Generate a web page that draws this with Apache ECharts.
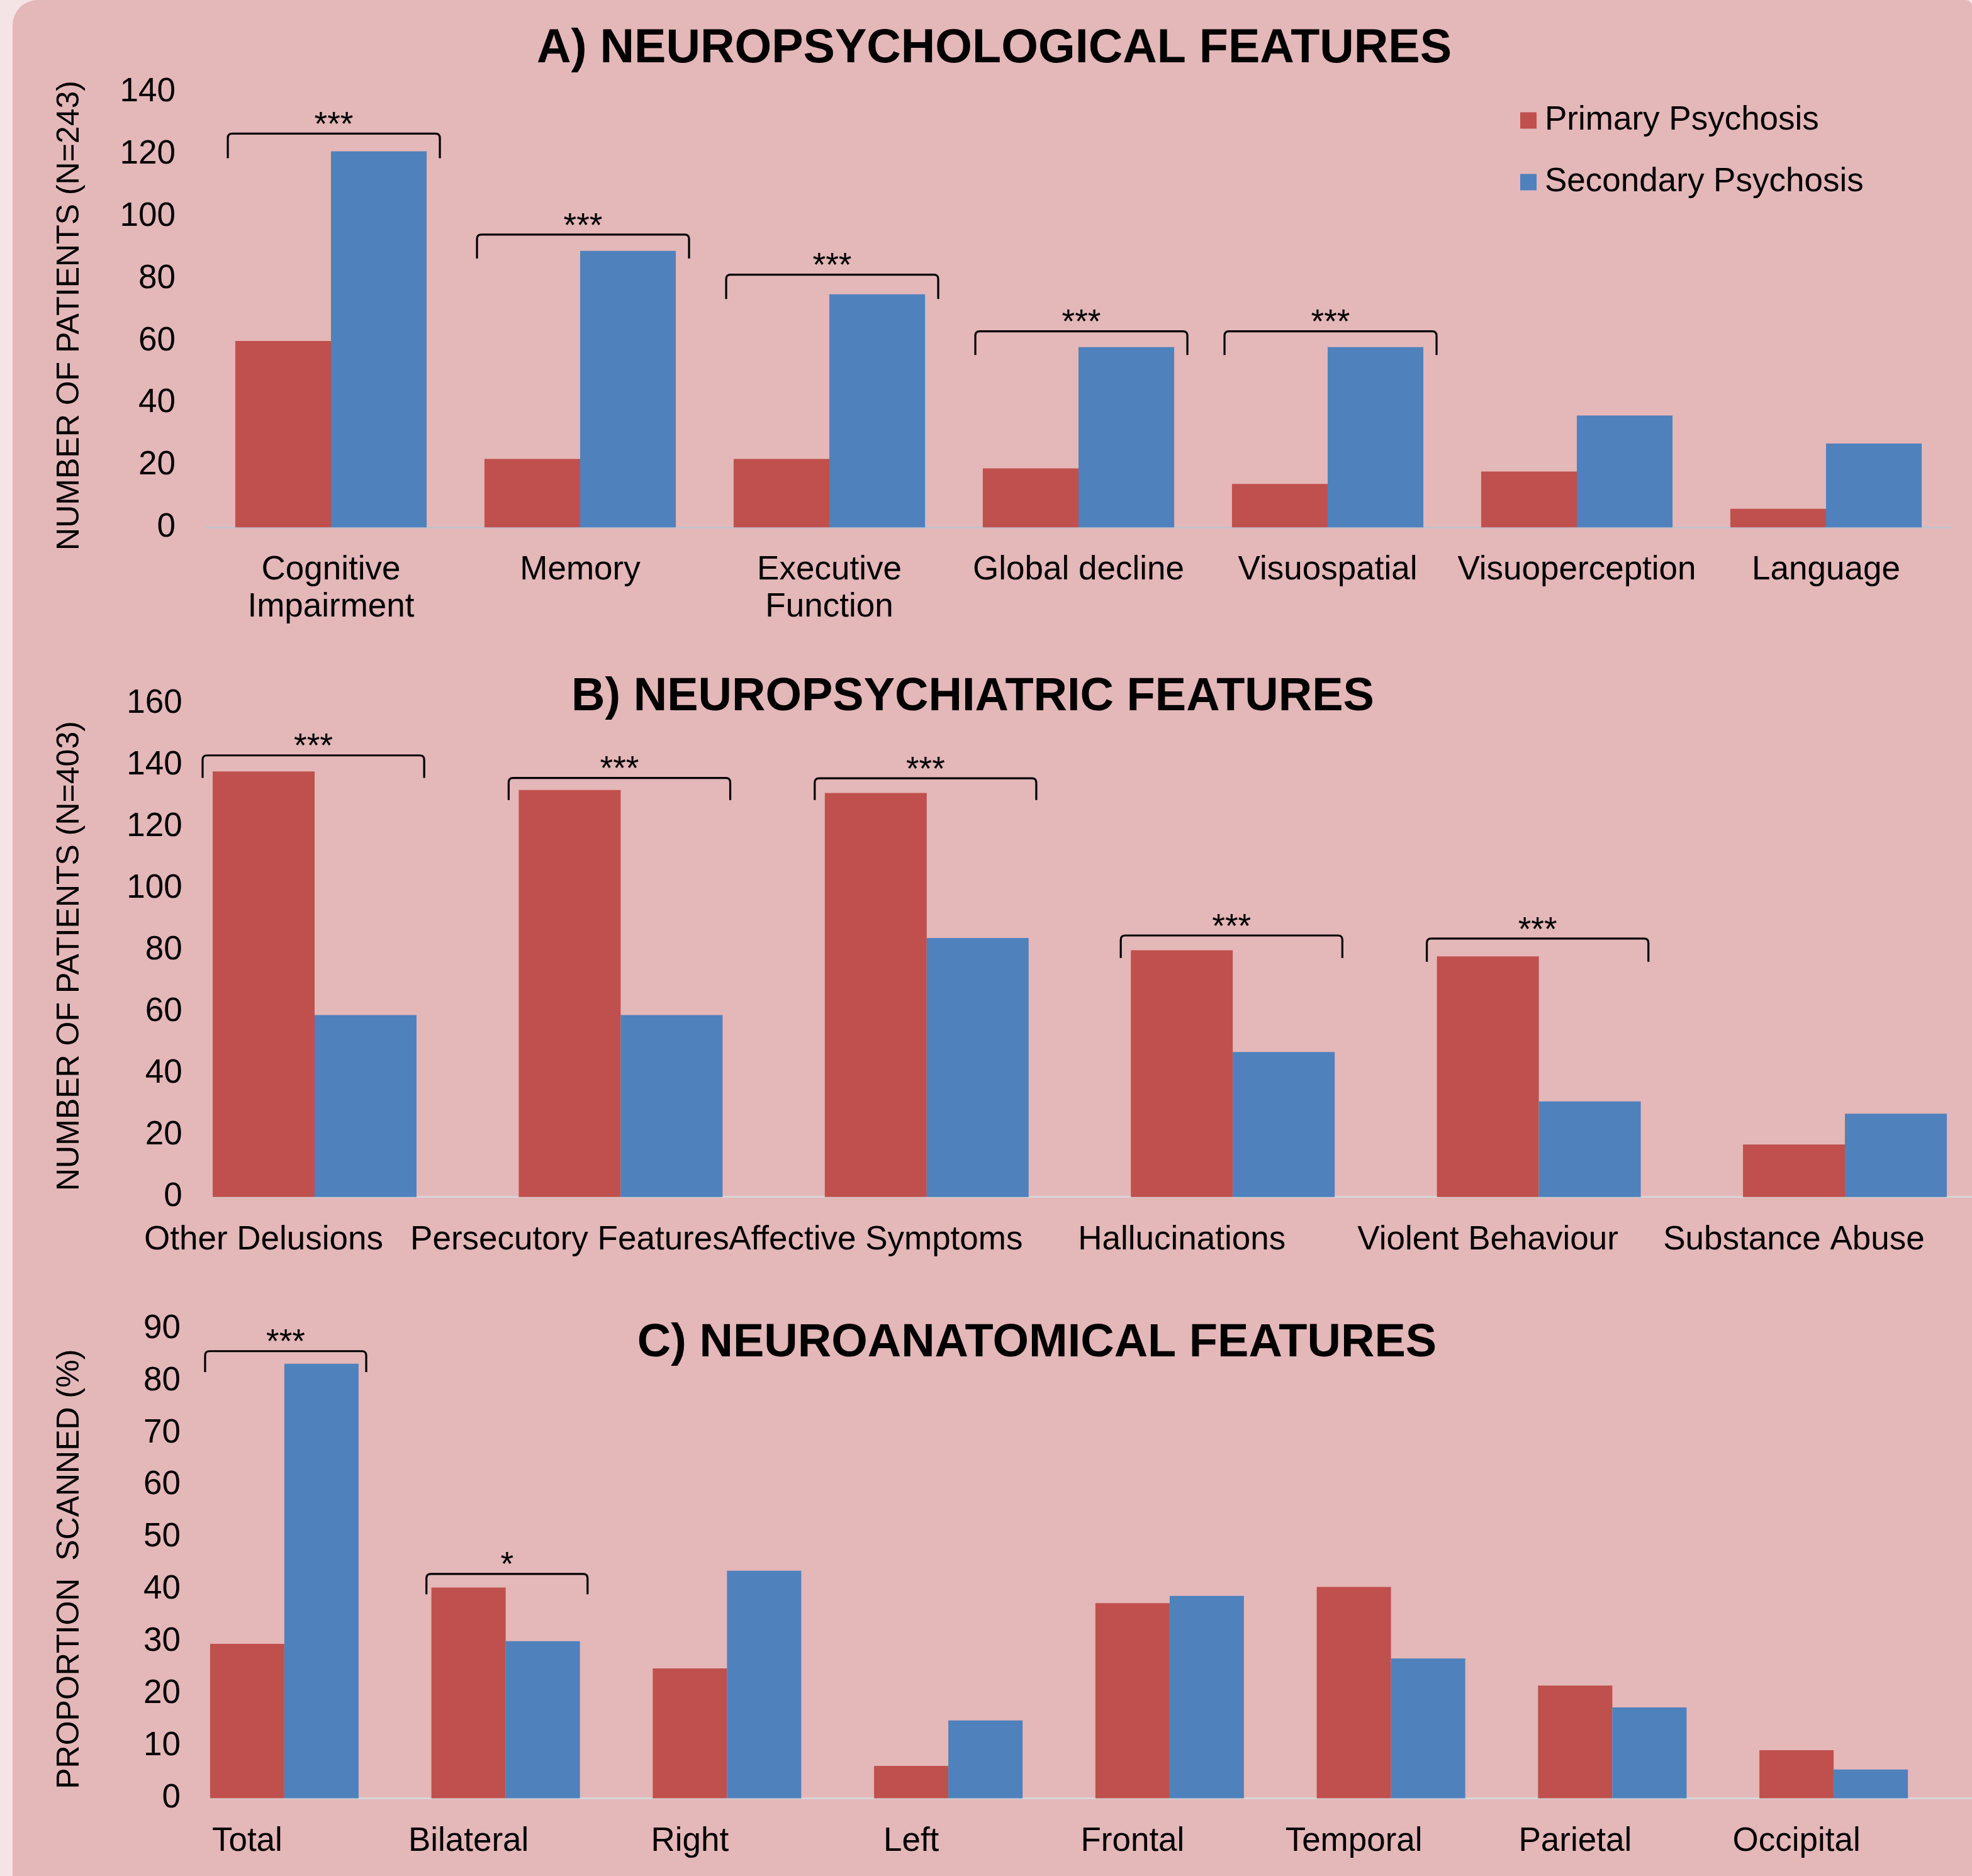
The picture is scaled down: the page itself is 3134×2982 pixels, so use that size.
<!DOCTYPE html>
<html>
<head>
<meta charset="utf-8">
<script src="https://cdn.jsdelivr.net/npm/echarts@6/dist/echarts.min.js"></script>
<style>
  html, body { margin: 0; padding: 0; background: #f5e4e5; }
  #chart { width: 3134px; height: 2982px; }
</style>
</head>
<body>
<div id="chart"></div>
<script>
// ---- A) neuropsychological features ----
const categoriesA = ['Cognitive\nImpairment', 'Memory', 'Executive\nFunction', 'Global decline', 'Visuospatial', 'Visuoperception', 'Language'];
const primaryA = [60, 22, 22, 19, 14, 18, 6];
const secondaryA = [121, 89, 75, 58, 58, 36, 27];
const bracketCatsA = [0, 1, 2, 3, 4];
const bracketTopsA = [126.7, 94.2, 81.3, 63.1, 63.1];
const bracketEndsA = [118.8, 86.5, 73.5, 55.5, 55.5];
const bracketMarksA = ['***', '***', '***', '***', '***'];
const ticksA = { min: 0, max: 140, interval: 20 };

// ---- B) neuropsychiatric features ----
const categoriesB = ['Other Delusions', 'Persecutory Features', 'Affective Symptoms', 'Hallucinations', 'Violent Behaviour', 'Substance Abuse'];
const primaryB = [138, 132, 131, 80, 78, 17];
const secondaryB = [59, 59, 84, 47, 31, 27];
const bracketCatsB = [0, 1, 2, 3, 4];
const bracketTopsB = [143.2, 135.9, 135.8, 84.8, 83.8];
const bracketEndsB = [135.9, 128.7, 128.7, 77.5, 76.3];
const bracketMarksB = ['***', '***', '***', '***', '***'];
const ticksB = { min: 0, max: 160, interval: 20 };

// ---- C) neuroanatomical features ----
const categoriesC = ['Total', 'Bilateral', 'Right', 'Left', 'Frontal', 'Temporal', 'Parietal', 'Occipital'];
const primaryC = [29.6, 40.4, 24.9, 6.2, 37.4, 40.5, 21.6, 9.2];
const secondaryC = [83.3, 30.1, 43.6, 14.9, 38.8, 26.8, 17.4, 5.5];
const bracketCatsC = [0, 1];
const bracketTopsC = [85.7, 43.0];
const bracketEndsC = [81.7, 39.1];
const bracketMarksC = ['***', '*'];
const ticksC = { min: 0, max: 90, interval: 10 };

const seriesNames = ['Primary Psychosis', 'Secondary Psychosis'];

const FONT = '"Liberation Sans", Arial, Helvetica, sans-serif';
const RED = '#c0504d';
const BLUE = '#4f81bd';

const chart = echarts.init(document.getElementById('chart'), null, { renderer: 'canvas' });

// significance bracket drawn in data coordinates of its grid
function bracketSeries(gridIdx, cats, tops, ends, marks, leftFrac, rightFrac) {
  const data = cats.map((c, i) => [c, tops[i], ends[i]]);
  return {
    type: 'custom',
    xAxisIndex: gridIdx,
    yAxisIndex: gridIdx,
    silent: true,
    z: 5,
    encode: { x: 0, y: 1 },
    data: data,
    renderItem: function (params, api) {
      const cat = api.value(0);
      const pt = api.coord([cat, api.value(1)]);
      const pe = api.coord([cat, api.value(2)]);
      const band = api.size([1, 0])[0];
      const xl = pt[0] - band * leftFrac;
      const xr = pt[0] + band * rightFrac;
      const yt = pt[1];
      const yb = pe[1];
      const r = 7;
      const path = 'M' + xl + ' ' + yb + ' L' + xl + ' ' + (yt + r) +
        ' Q' + xl + ' ' + yt + ' ' + (xl + r) + ' ' + yt +
        ' L' + (xr - r) + ' ' + yt +
        ' Q' + xr + ' ' + yt + ' ' + xr + ' ' + (yt + r) +
        ' L' + xr + ' ' + yb;
      return {
        type: 'group',
        children: [
          { type: 'path', shape: { pathData: path }, style: { stroke: '#000', lineWidth: 3.2, fill: null } },
          { type: 'text', style: { text: marks[params.dataIndex], x: (xl + xr) / 2, y: yt - 12,
              align: 'center', verticalAlign: 'middle', fontSize: 53, fontFamily: FONT, fill: '#000' } }
        ]
      };
    }
  };
}

function barPair(gridIdx, primary, secondary, gap) {
  return [
    { name: seriesNames[0], type: 'bar', xAxisIndex: gridIdx, yAxisIndex: gridIdx, data: primary,
      itemStyle: { color: RED }, barGap: '0%', barCategoryGap: gap, silent: true },
    { name: seriesNames[1], type: 'bar', xAxisIndex: gridIdx, yAxisIndex: gridIdx, data: secondary,
      itemStyle: { color: BLUE }, barGap: '0%', barCategoryGap: gap, silent: true }
  ];
}

function valueAxis(gridIdx, ticks, name, nameGap, labelMargin) {
  return {
    type: 'value', gridIndex: gridIdx,
    min: ticks.min, max: ticks.max, interval: ticks.interval,
    splitLine: { show: false }, axisLine: { show: false }, axisTick: { show: false },
    axisLabel: { fontSize: 53, fontFamily: FONT, color: '#000', margin: labelMargin },
    name: name, nameLocation: 'middle', nameGap: nameGap,
    nameTextStyle: { fontSize: 50, fontFamily: FONT, color: '#000', padding: [0, 18, 0, 0] }
  };
}

function categoryAxis(gridIdx, cats, showLine, shift) {
  const axis = {
    type: 'category', gridIndex: gridIdx, data: cats,
    axisTick: { show: false },
    axisLine: { show: showLine, lineStyle: { color: '#bcc3cc', width: 2.5 } },
    axisLabel: { interval: 0, fontSize: 53, fontFamily: FONT, color: '#000', margin: 39, lineHeight: 59 }
  };
  if (shift) {
    axis.axisLabel.formatter = function (v) { return '{s|' + v + '}'; };
    axis.axisLabel.rich = { s: { fontSize: 53, fontFamily: FONT, color: '#000', padding: [0, shift * 2, 0, 0] } };
  }
  return axis;
}

// bare axis lines under panels B and C
function baseLineAxis(gridIdx) {
  return {
    type: 'category', gridIndex: gridIdx, data: [''],
    axisTick: { show: false }, axisLabel: { show: false },
    axisLine: { show: true, lineStyle: { color: '#d6d6d8', width: 3 } }
  };
}
function hiddenValueAxis(gridIdx) {
  return { type: 'value', gridIndex: gridIdx, min: 0, max: 1, show: false };
}

function gridRect(left, width, top, height) {
  return { left: left, width: width, top: top, height: height, containLabel: false, outerBoundsMode: 'none' };
}

const titleStyle = { fontWeight: 'bold', color: '#000', fontFamily: FONT };

const option = {
  animation: false,
  backgroundColor: '#f5e4e5',
  textStyle: { fontFamily: FONT },
  graphic: [{
    type: 'rect', z: -10, silent: true,
    shape: { x: 20, y: 0, width: 3114, height: 3000, r: [40, 10, 0, 0] },
    style: { fill: '#e4b7b8' }
  }],
  title: [
    { text: 'A) NEUROPSYCHOLOGICAL FEATURES', left: 1580, top: 40, textAlign: 'center', padding: 0,
      textStyle: Object.assign({ fontSize: 75.5, lineHeight: 75.5 }, titleStyle) },
    { text: 'B) NEUROPSYCHIATRIC FEATURES', left: 1546, top: 1072, textAlign: 'center', padding: 0,
      textStyle: Object.assign({ fontSize: 74, lineHeight: 74 }, titleStyle) },
    { text: 'C) NEUROANATOMICAL FEATURES', left: 1648, top: 2099, textAlign: 'center', padding: 0,
      textStyle: Object.assign({ fontSize: 74, lineHeight: 74 }, titleStyle) }
  ],
  legend: {
    data: seriesNames, orient: 'vertical', left: 2416, top: 165, padding: 0,
    itemWidth: 26, itemHeight: 26, itemGap: 45, icon: 'rect', selectedMode: false,
    textStyle: { fontSize: 53, fontFamily: FONT, color: '#000', lineHeight: 53, padding: [0, 0, 0, 8] }
  },
  grid: [
    gridRect(328, 2772, 146.7, 691.6),
    gridRect(256.8, 2918.4, 1118.4, 784.3),
    gridRect(276, 2814, 2112.1, 746.3),
    gridRect(339, 2795, 1118.4, 784.3),
    gridRect(334, 2800, 2112.1, 746.3)
  ],
  xAxis: [
    categoryAxis(0, categoriesA, true, 0),
    categoryAxis(1, categoriesB, false, 81),
    categoryAxis(2, categoriesC, false, 59),
    baseLineAxis(3),
    baseLineAxis(4)
  ],
  yAxis: [
    valueAxis(0, ticksA, 'NUMBER OF PATIENTS (N=243)', 192, 49),
    valueAxis(1, ticksB, 'NUMBER OF PATIENTS (N=403)', 121, -33),
    valueAxis(2, ticksC, 'PROPORTION  SCANNED (%)', 140, -11),
    hiddenValueAxis(3),
    hiddenValueAxis(4)
  ],
  series: [].concat(
    barPair(0, primaryA, secondaryA, '23.2%'),
    barPair(1, primaryB, secondaryB, '33.4%'),
    barPair(2, primaryC, secondaryC, '32.9%'),
    [
      bracketSeries(0, bracketCatsA, bracketTopsA, bracketEndsA, bracketMarksA, 0.414, 0.437),
      bracketSeries(1, bracketCatsB, bracketTopsB, bracketEndsB, bracketMarksB, 0.366, 0.358),
      bracketSeries(2, bracketCatsC, bracketTopsC, bracketEndsC, bracketMarksC, 0.358, 0.37)
    ]
  )
};

chart.setOption(option);
</script>
</body>
</html>
